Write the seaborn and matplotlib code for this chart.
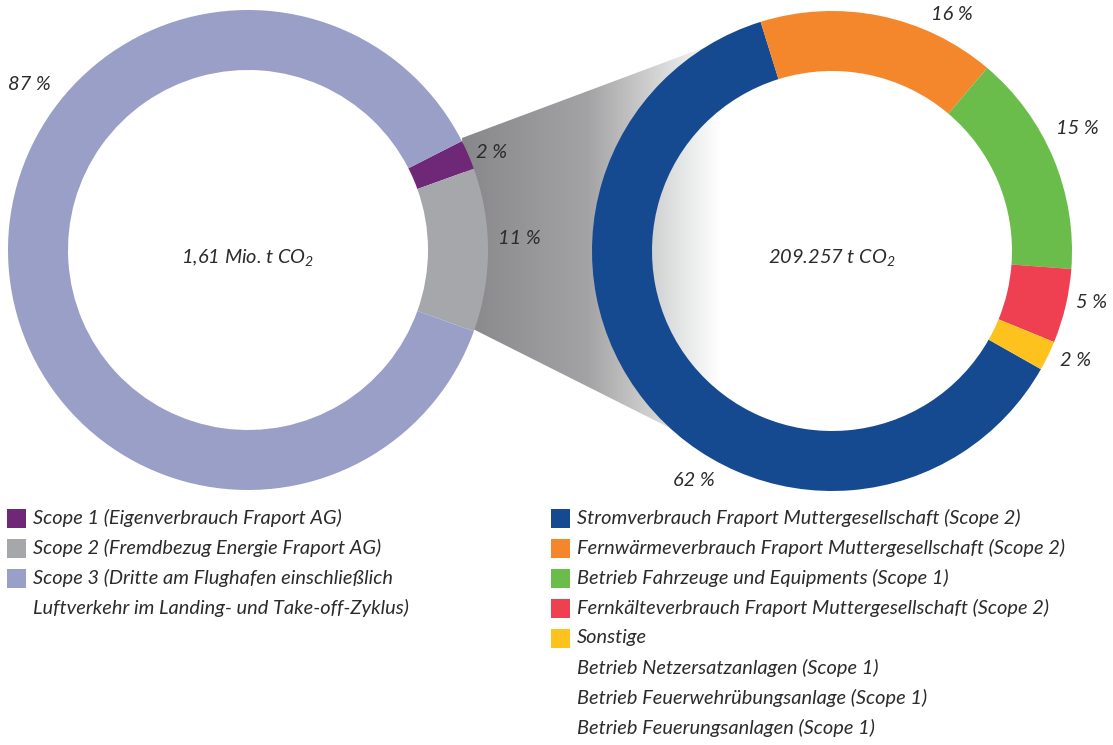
import numpy as np
import matplotlib
matplotlib.use("Agg")
import matplotlib.pyplot as plt
import seaborn as sns
from matplotlib.patches import Polygon, Rectangle
from matplotlib.colors import LinearSegmentedColormap

# left donut: emissions by scope
scope_labels = ["Scope 1 (Eigenverbrauch Fraport AG)",
                "Scope 2 (Fremdbezug Energie Fraport AG)",
                "Scope 3 (Dritte am Flughafen einschließlich\nLuftverkehr im Landing- und Take-off-Zyklus)"]
scope_values = [2, 11, 87]
scope_colors = ["#6f2777", "#a6a7aa", "#9a9fc8"]
scope_total = "1,61 Mio. t CO$_2$"

# right donut: breakdown of scope 1 + 2
detail_labels = ["Stromverbrauch Fraport Muttergesellschaft (Scope 2)",
                 "Fernwärmeverbrauch Fraport Muttergesellschaft (Scope 2)",
                 "Betrieb Fahrzeuge und Equipments (Scope 1)",
                 "Fernkälteverbrauch Fraport Muttergesellschaft (Scope 2)",
                 "Sonstige"]
detail_values = [62, 16, 15, 5, 2]
detail_colors = ["#154a91", "#f4872c", "#6bbd4b", "#ee4050", "#fdc21e"]
detail_total = "209.257 t CO$_2$"
other_items = ["Betrieb Netzersatzanlagen (Scope 1)",
               "Betrieb Feuerwehrübungsanlage (Scope 1)",
               "Betrieb Feuerungsanlagen (Scope 1)"]

sns.set_theme(style="white")
plt.rcParams['font.family'] = ['Lato', 'DejaVu Sans']
plt.rcParams['mathtext.fontset'] = 'custom'
plt.rcParams['mathtext.rm'] = 'Lato:italic'
plt.rcParams['mathtext.it'] = 'Lato:italic'
plt.rcParams['mathtext.default'] = 'it'

W, H = 1113, 745
fig = plt.figure(figsize=(W / 100, H / 100), dpi=100)
ax = fig.add_axes([0, 0, 1, 1])

def py(y):
    # image pixel row -> data y
    return H - y

txt = dict(fontstyle="italic", color="#2b2b2b", fontsize=14.4)

L_c, R_c = (248, py(250)), (832, py(251))
R_out, R_in = 240, 180

# funnel from the scope 2 wedge to the right donut
funnel = [(462, py(138)), (703, py(48))]
for a in np.linspace(122, -130, 80):
    t = np.radians(a)
    funnel.append((R_c[0] + R_out * np.cos(t), R_c[1] + R_out * np.sin(t)))
funnel += [(680, py(433)), (473, py(329))]
poly = Polygon(funnel, closed=True, facecolor="none", edgecolor="none")
ax.add_patch(poly)
grad = LinearSegmentedColormap.from_list(
    "funnel", [(0, "#88888a"), (0.45, "#a3a3a5"), (0.62, "#c4c4c4"),
               (0.78, "#e2e3e3"), (0.93, "#ffffff"), (1, "#ffffff")])
gx = np.linspace(0, 1, 400)[None, :]
im = ax.imshow(gx, cmap=grad, extent=[462, 740, py(490), py(0)],
               aspect="auto", interpolation="bilinear", zorder=0)
im.set_clip_path(poly)

ax.pie(scope_values, colors=scope_colors, startangle=27, counterclock=False,
       center=L_c, radius=R_out,
       wedgeprops=dict(width=R_out - R_in, linewidth=0))
ax.pie(detail_values, colors=detail_colors, startangle=-29.5, counterclock=False,
       center=R_c, radius=R_out,
       wedgeprops=dict(width=R_out - R_in, linewidth=0))

ax.text(L_c[0], py(257), scope_total, ha="center", va="center", **txt)
ax.text(R_c[0], py(257), detail_total, ha="center", va="center", **txt)

# percentage labels (layout positions)
scope_pos = [(492, 152), (519, 238), (29, 84)]
for v, (x, y) in zip(scope_values, scope_pos):
    ax.text(x, py(y), f"{v} %", ha="center", va="center", **txt)
detail_pos = [(694, 480), (952, 15), (1077, 129), (1092, 303), (1076, 360)]
for v, (x, y) in zip(detail_values, detail_pos):
    ax.text(x, py(y), f"{v} %", ha="center", va="center", **txt)

# legends
row = 30
y0 = 518
for i, (lab, col) in enumerate(zip(scope_labels, scope_colors)):
    ax.add_patch(Rectangle((7, py(y0 + i * row) - 9.5), 19, 19, color=col, lw=0))
    lines = lab.split("\n")
    for j, ln in enumerate(lines):
        ax.text(33, py(y0 + (i + j) * row), ln, ha="left", va="center", **txt)

for i, (lab, col) in enumerate(zip(detail_labels, detail_colors)):
    ax.add_patch(Rectangle((551, py(y0 + i * row) - 9.5), 19, 19, color=col, lw=0))
    ax.text(577, py(y0 + i * row), lab, ha="left", va="center", **txt)
for k, lab in enumerate(other_items):
    ax.text(577, py(y0 + (len(detail_labels) + k) * row), lab, ha="left", va="center", **txt)

ax.set_xlim(0, W)
ax.set_ylim(0, H)
ax.set_aspect("equal")
ax.axis("off")
fig.savefig("out.png", dpi=100, facecolor="white")
